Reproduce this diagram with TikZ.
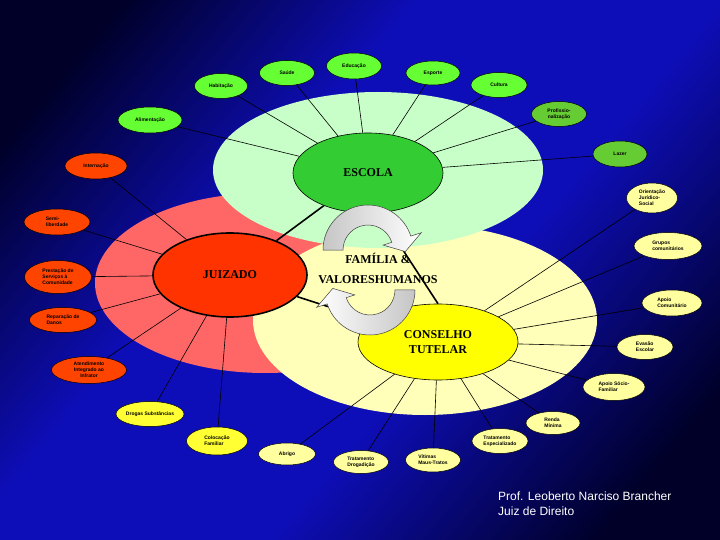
\documentclass[tikz,border=0pt]{standalone}
\usepackage{fontspec}
\setmainfont{Liberation Serif}
\setsansfont{Liberation Sans}
\usetikzlibrary{shapes.geometric}
\pgfdeclarelayer{bg}
\pgfdeclarelayer{lines}
\pgfsetlayers{bg,lines,main}
\definecolor{bgdark}{RGB}{0,0,40}
\definecolor{bgmid}{RGB}{14,14,185}
\definecolor{palegreen}{RGB}{200,255,200}
\definecolor{salmon}{RGB}{255,102,102}
\definecolor{paleyellow}{RGB}{255,255,185}
\definecolor{escgreen}{RGB}{51,204,51}
\definecolor{juired}{RGB}{255,51,0}
\definecolor{conyellow}{RGB}{255,255,0}
\definecolor{limesat}{RGB}{102,255,51}
\definecolor{greensat}{RGB}{102,204,51}
\definecolor{orangesat}{RGB}{255,68,0}
\definecolor{yellowsat}{RGB}{255,255,51}
\definecolor{palesat}{RGB}{255,255,160}
\pgfdeclarehorizontalshading{bgshade}{100bp}{color(0bp)=(bgdark); color(22bp)=(bgdark); color(40bp)=(bgmid); color(58bp)=(bgmid); color(78bp)=(bgdark); color(100bp)=(bgdark)}
\begin{document}
\begin{tikzpicture}[x=1pt,y=-1pt,
  sat/.style={ellipse, draw=black, line width=0.5pt, inner sep=0pt,
    font=\sffamily\bfseries\fontsize{5}{5.8}\selectfont, align=center, text=black},
  sz/.style 2 args={minimum width=#1pt, minimum height=#2pt},
  central/.style={ellipse, draw=black, line width=0.6pt, inner sep=0pt,
    font=\bfseries\fontsize{12}{15}\selectfont, align=center, text=black},
  spoke/.style={draw=black, line width=0.6pt},
  thickline/.style={draw=black, line width=1.6pt},
  bigtext/.style={font=\bfseries\fontsize{12}{15}\selectfont, text=black, inner sep=0pt}]
\useasboundingbox (0,0) rectangle (720,540);
\begin{pgfonlayer}{bg}
  \shade[shading=bgshade, shading angle=-40] (0,0) rectangle (720,540);
  \fill[salmon] (265,283) ellipse[x radius=170, y radius=90];
  \fill[paleyellow] (425,320) ellipse[x radius=172, y radius=95];
  \fill[palegreen] (378,170) ellipse[x radius=165, y radius=78];
\end{pgfonlayer}

% central nodes
\node[central, fill=escgreen, sz={150}{80}] (esc) at (368,173) {ESCOLA};
\node[central, fill=juired, line width=1.6pt, sz={154}{84}] (jui) at (230,275) {JUIZADO};
\node[central, fill=conyellow, sz={160}{76}] (con) at (438,342) {CONSELHO\\TUTELAR};

% Escola satellites
\node[sat, fill=limesat, sz={53}{25}] (hab) at (221,86) {Habitação};
\node[sat, fill=limesat, sz={55}{25}] (sau) at (287,73) {Saúde};
\node[sat, fill=limesat, sz={55}{26}] (edu) at (354,66) {Educação};
\node[sat, fill=limesat, sz={54}{24}] (esp) at (433,73) {Esporte};
\node[sat, fill=limesat, sz={56}{25}] (cul) at (499,85) {Cultura};
\node[sat, fill=limesat, sz={64}{26}] (ali) at (150,120) {Alimentação};
\node[sat, fill=greensat, sz={55}{25}] (pro) at (559,114) {Profissio-\\nalização};
\node[sat, fill=greensat, sz={54}{26}] (laz) at (620,154) {Lazer};

% Juizado satellites
\node[sat, fill=orangesat, sz={62}{26}] (int) at (96,166) {Internação};
\node[sat, fill=orangesat, sz={66}{26}, align=left] (sem) at (57,222) {Semi-\\liberdade};
\node[sat, fill=orangesat, sz={67}{33}, align=left] (pre) at (58,277) {Prestação de\\Serviços à\\Comunidade};
\node[sat, fill=orangesat, sz={67}{25}, align=left] (rep) at (63,320) {Reparação de\\Danos};
\node[sat, fill=orangesat, sz={75}{27}] (ate) at (89,370) {Atendimento\\Integrado ao\\Infrator};
\node[sat, fill=yellowsat, sz={64}{25}] (dro) at (150,414) {Drogas Substâncias};
\node[sat, fill=yellowsat, sz={61}{28}, align=left] (col) at (217,441) {Colocação\\Familiar};

% Conselho satellites
\node[sat, fill=palesat, sz={51}{30}, align=left] (ori) at (652,198) {Orientação\\Jurídico-\\Social};
\node[sat, fill=palesat, sz={68}{27}, align=left] (gru) at (668,246) {Grupos\\comunitários};
\node[sat, fill=palesat, sz={60}{26}, align=left] (apc) at (672,303) {Apoio\\Comunitário};
\node[sat, fill=palesat, sz={56}{25}, align=left] (eva) at (645,347) {Evasão\\Escolar};
\node[sat, fill=palesat, sz={62}{27}, align=left] (aps) at (614,387) {Apoio Sócio-\\Familiar};
\node[sat, fill=palesat, sz={54}{23}, align=left] (ren) at (553,423) {Renda\\Mínima};
\node[sat, fill=palesat, sz={56}{25}, align=left] (tre) at (500,441) {Tratamento\\Especializado};
\node[sat, fill=palesat, sz={55}{24}, align=left] (vit) at (433,460) {Vítimas\\Maus-Tratos};
\node[sat, fill=palesat, sz={55}{23}, align=left] (trd) at (361,462) {Tratamento\\Drogadição};
\node[sat, fill=palesat, sz={57}{22}] (abr) at (287,454) {Abrigo};

\begin{pgfonlayer}{lines}
  \foreach \s in {hab,sau,edu,esp,cul,ali,pro,laz} \draw[spoke] (\s) -- (esc);
  \foreach \s in {int,sem,pre,rep,ate,dro,col} \draw[spoke] (\s) -- (jui);
  \foreach \s in {ori,gru,apc,eva,aps,ren,tre,vit,trd,abr} \draw[spoke] (\s) -- (con);
  \draw[thickline] (esc) -- (jui);
  \draw[thickline] (esc.-75) -- (con.north);
  \draw[thickline] (jui) -- (con);
\end{pgfonlayer}

% circular arrows
\shadedraw[left color=gray!45, right color=white, draw=gray!50!black, line width=0.5pt]
  (323,250) arc[start angle=180, end angle=342, radius=45]
  -- (421.3,232.7) -- (405.3,251.6) -- (383.2,245.1) -- (391.8,242.3)
  arc[start angle=342, end angle=180, radius=25] -- cycle;
\shadedraw[right color=gray!45, left color=white, draw=gray!50!black, line width=0.5pt]
  (415,290) arc[start angle=0, end angle=162, radius=45]
  -- (316.7,307.3) -- (332.7,288.4) -- (354.8,294.9) -- (346.2,297.7)
  arc[start angle=162, end angle=0, radius=25] -- cycle;

\node[bigtext] (fam) at (378,258) {FAMÍLIA \&};
\node[bigtext] (val) at (378,280) {VALORESHUMANOS};

\node[anchor=west, font=\sffamily\fontsize{12}{15}\selectfont, text=white, align=left, inner sep=0pt]
  (auth) at (498,504) {Prof. Leoberto Narciso Brancher\\Juiz de Direito};
\end{tikzpicture}
\end{document}
